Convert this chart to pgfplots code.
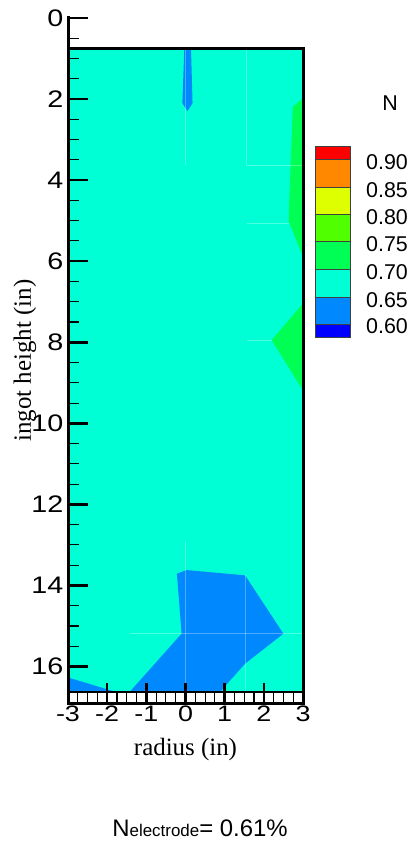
\documentclass[border=0pt]{standalone}
\usepackage{fontspec}
\setmainfont{Liberation Serif}
\setsansfont{Liberation Sans}
\newfontfamily\tickfont[FakeStretch=1.2]{Liberation Sans}
\usepackage{pgfplots}
\pgfplotsset{compat=1.18}
\definecolor{cN90}{RGB}{255,0,0}
\definecolor{cN85}{RGB}{255,136,0}
\definecolor{cN80}{RGB}{221,255,0}
\definecolor{cN75}{RGB}{80,255,0}
\definecolor{cN70}{RGB}{0,255,85}
\definecolor{cN65}{RGB}{0,255,213}
\definecolor{cN60}{RGB}{0,136,255}
\definecolor{cN55}{RGB}{0,0,255}
\begin{document}
\begin{tikzpicture}[x=1bp,y=1bp]
\path[use as bounding box] (0,0) rectangle (417,846);
\begin{axis}[
  at={(68bp,143bp)}, anchor=south west,
  scale only axis, width=235bp, height=685bp,
  xmin=-3, xmax=3, ymin=0, ymax=16.9, y dir=reverse,
  clip=false, axis on top,
  axis line style={draw=none},
  xtick={-3,-2,-1,0,1,2,3}, minor x tick num=3,
  ytick={0,2,4,6,8,10,12,14,16}, minor y tick num=3,
  tick align=inside,
  xtick pos=left, ytick pos=left,
  major tick length=20bp, minor tick length=11bp,
  major tick style={line width=2.6bp, black},
  minor tick style={line width=1.1bp, black},
  /pgf/number format/assume math mode=true,
  xticklabel style={font=\tickfont\fontsize{22.5}{22.5}\selectfont, inner sep=3bp},
  yticklabel style={font=\tickfont\fontsize{24}{24}\selectfont, inner sep=4.5bp},
  xlabel={radius (in)}, ylabel={ingot height (in)},
  label style={font=\rmfamily\fontsize{25}{25}\selectfont},
  xlabel style={at={(axis description cs:0.5,-0.0686)}, anchor=center},
  ylabel style={at={(axis description cs:-0.183,0.5)}, anchor=center},
]
% bulk field 0.65-0.70
\addplot[fill=cN65, draw=none] coordinates {(-3,0.75) (3,0.75) (3,16.62) (-3,16.62)} -- cycle;
% 0.60-0.65 regions
\addplot[fill=cN60, draw=none] coordinates {(-0.03,0.75) (0.14,0.75) (0.18,2.1) (0.05,2.3) (-0.08,2.1)} -- cycle;
\addplot[fill=cN60, draw=none] coordinates {(-0.22,13.71) (0.03,13.62) (1.52,13.75) (2.5,15.19) (1.52,15.93) (0.95,16.55) (0.9,16.62) (-1.42,16.62) (-0.1,15.19)} -- cycle;
\addplot[fill=cN60, draw=none] coordinates {(-3,16.27) (-1.8,16.62) (-3,16.62)} -- cycle;
% 0.70-0.75 regions
\addplot[fill=cN70, draw=none] coordinates {(3,1.98) (2.74,2.19) (2.63,5.0) (3,5.9)} -- cycle;
\addplot[fill=cN70, draw=none] coordinates {(3,7.04) (2.2,7.95) (3,9.19)} -- cycle;
% faint mesh lines
\addplot[white, opacity=0.3, line width=0.7bp] coordinates {(0,0.75) (0,3.63)};
\addplot[white, opacity=0.3, line width=0.7bp] coordinates {(1.56,0.75) (1.56,3.63) (3,3.63)};
\addplot[white, opacity=0.3, line width=0.7bp] coordinates {(1.56,5.07) (2.63,5.07)};
\addplot[white, opacity=0.3, line width=0.7bp] coordinates {(1.56,7.95) (2.2,7.95)};
\addplot[white, opacity=0.3, line width=0.7bp] coordinates {(0,12.9) (0,16.62)};
\addplot[white, opacity=0.3, line width=0.7bp] coordinates {(1.52,13.75) (1.52,16.62)};
\addplot[white, opacity=0.3, line width=0.7bp] coordinates {(-1.42,15.19) (3,15.19)};
% frame
\draw[line width=3bp, line cap=rect] (axis cs:-3,0) -- (axis cs:-3,16.9);
\draw[line width=3bp, line join=miter] (axis cs:-3,0.75) -- (axis cs:3,0.75) -- (axis cs:3,16.9) -- (axis cs:-3,16.9);
\draw[line width=2.2bp] (axis cs:-3,16.62) -- (axis cs:3,16.62);
\end{axis}
% legend
\fill[cN90] (315,686.7) rectangle (350,699.3);
\fill[cN85] (315,658.7) rectangle (350,686.7);
\fill[cN80] (315,631.3) rectangle (350,658.7);
\fill[cN75] (315,604.3) rectangle (350,631.3);
\fill[cN70] (315,576.7) rectangle (350,604.3);
\fill[cN65] (315,548.7) rectangle (350,576.7);
\fill[cN60] (315,521.7) rectangle (350,548.7);
\fill[cN55] (315,508.7) rectangle (350,521.7);
\foreach \yy in {686.7,658.7,631.3,604.3,576.7,548.7,521.7}
  \draw[line width=0.8bp, black!75] (315,\yy) -- (350,\yy);
\draw[line width=1bp, black!75] (315,508.7) rectangle (350,699.3);
\begin{scope}[every node/.style={anchor=west, inner sep=0pt, font=\sffamily\fontsize{21.5}{21.5}\selectfont}]
\node at (366,683.5) {0.90};
\node at (366,656) {0.85};
\node at (366,629) {0.80};
\node at (366,602) {0.75};
\node at (366,573.5) {0.70};
\node at (366,546) {0.65};
\node at (366,519.5) {0.60};
\end{scope}
\node[font=\sffamily\fontsize{21.5}{21.5}\selectfont, inner sep=0pt] at (390,743) {N};
\node[anchor=base, inner sep=0pt, font=\sffamily\fontsize{24}{24}\selectfont] at (200,9) {N{\fontsize{17}{17}\selectfont electrode}= 0.61\%};
\end{tikzpicture}
\end{document}
